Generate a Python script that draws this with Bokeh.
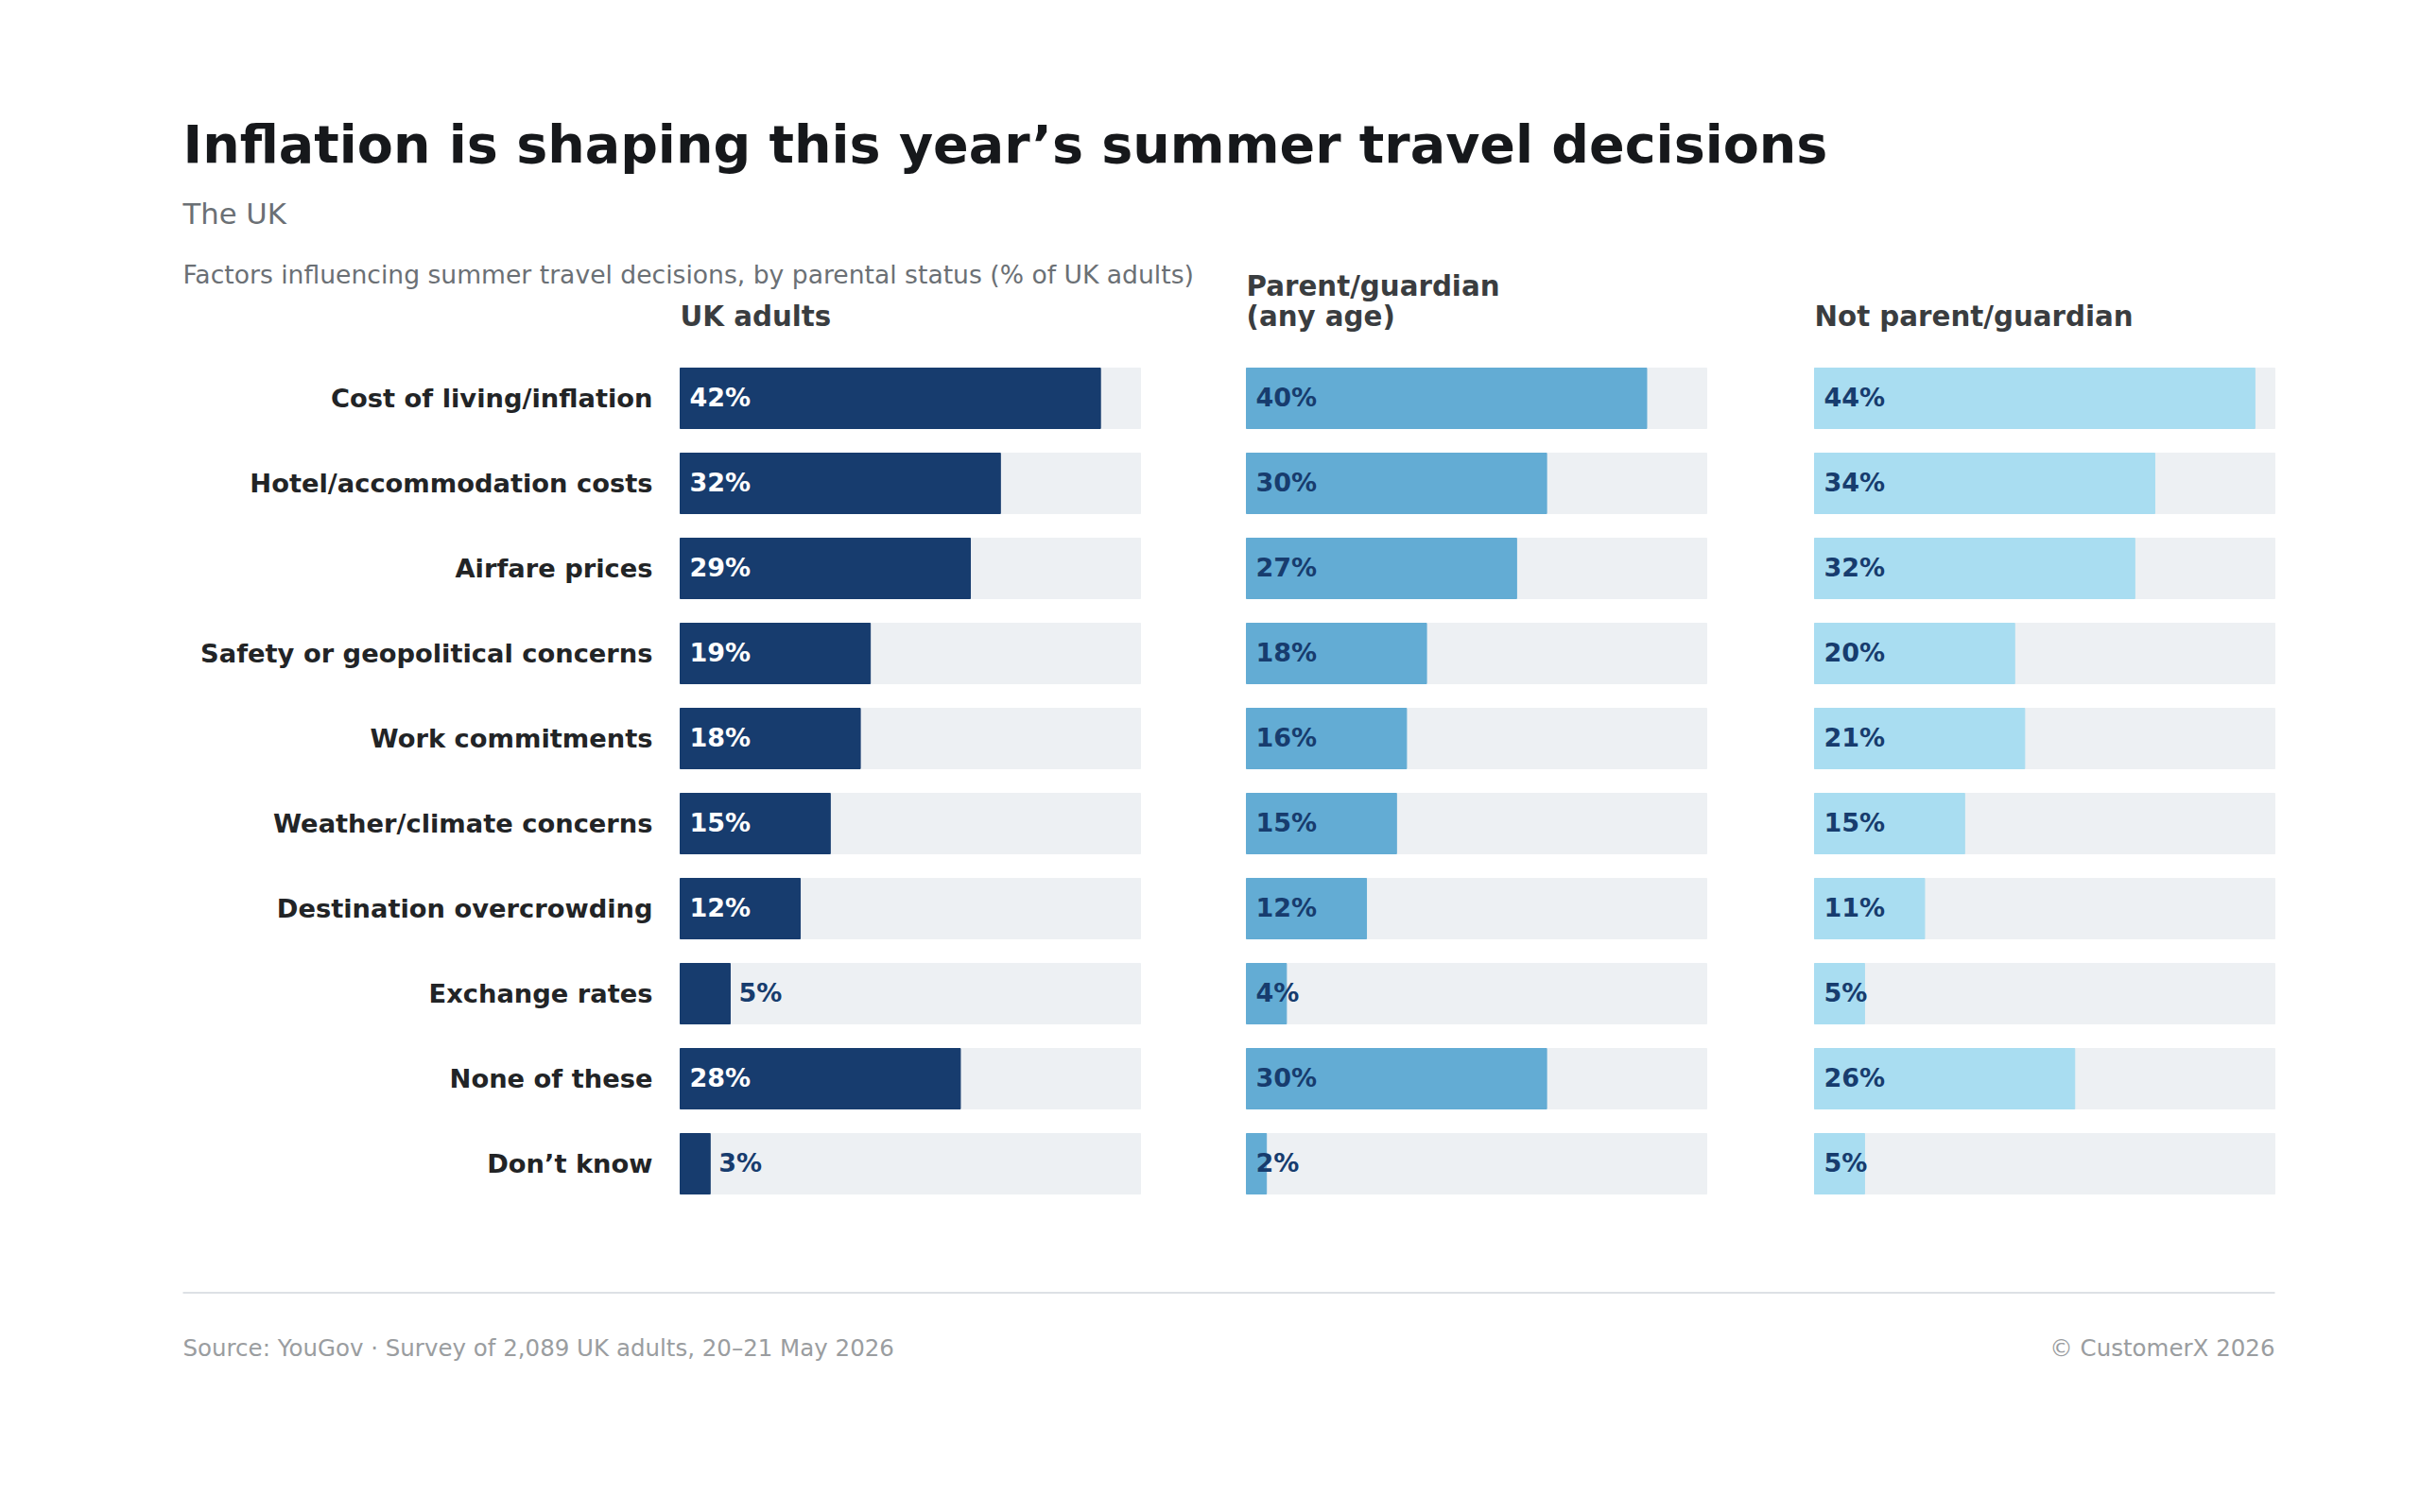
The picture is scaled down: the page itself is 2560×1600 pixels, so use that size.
from bokeh.plotting import figure
from bokeh.models import Range1d, ColumnDataSource
from bokeh.core.properties import value
from bokeh.embed import file_html
from bokeh.resources import INLINE

# data
categories = [
    "Cost of living/inflation",
    "Hotel/accommodation costs",
    "Airfare prices",
    "Safety or geopolitical concerns",
    "Work commitments",
    "Weather/climate concerns",
    "Destination overcrowding",
    "Exchange rates",
    "None of these",
    "Don\u2019t know",
]
uk_adults = [42, 32, 29, 19, 18, 15, 12, 5, 28, 3]
parents = [40, 30, 27, 18, 16, 15, 12, 4, 30, 2]
non_parents = [44, 34, 32, 20, 21, 15, 11, 5, 26, 5]
panel_titles = [["UK adults"], ["Parent/guardian", "(any age)"], ["Not parent/guardian"]]
x_max = 46

title = "Inflation is shaping this year\u2019s summer travel decisions"
region = "The UK"
subtitle = "Factors influencing summer travel decisions, by parental status (% of UK adults)"
source = "Source: YouGov \u00b7 Survey of 2,089 UK adults, 20\u201321 May 2026"
credit = "\u00a9 CustomerX 2026"

# layout (pixels)
W, H = 2544, 1584
left_margin, right_edge = 193, 2406
panel_x0 = [719, 1318, 1919]
panel_w = 487
row0, row_step, bar_h = 421, 90, 64

FONT = value("DejaVu Sans")
NAVY = "#173c6e"
bar_colors = [NAVY, "#63acd4", "#a9ddf1"]
TRACK = "#edf0f3"

p = figure(width=W, height=H, output_backend="svg", toolbar_location=None,
           x_range=Range1d(0, W), y_range=Range1d(H, 0),
           x_axis_location=None, y_axis_location=None, min_border=0,
           background_fill_color="white", border_fill_color="white",
           outline_line_color=None)
p.grid.visible = False

p.extra_y_ranges = {"rows": Range1d((H - row0) / row_step, -row0 / row_step)}
for i, x0 in enumerate(panel_x0):
    p.extra_x_ranges[f"p{i}"] = Range1d(-x0 / panel_w * x_max, (W - x0) / panel_w * x_max)

rows = list(range(len(categories)))
bh = bar_h / row_step

for i, vals in enumerate([uk_adults, parents, non_parents]):
    rn = f"p{i}"
    src = ColumnDataSource(dict(y=rows, v=vals, txt=[f"{v}%" for v in vals]))
    p.hbar(y="y", left=0, right=x_max, height=bh, source=src, color=TRACK,
           x_range_name=rn, y_range_name="rows")
    p.hbar(y="y", left=0, right="v", height=bh, source=src, color=bar_colors[i],
           x_range_name=rn, y_range_name="rows")
    if i == 0:
        inside = [k for k in rows if vals[k] >= 10]
        outside = [k for k in rows if vals[k] < 10]
        p.text(x=[0] * len(inside), y=inside, text=[f"{vals[k]}%" for k in inside],
               x_offset=10, y_offset=-1, text_font=FONT, text_font_style="bold",
               text_font_size="27px", text_color="white", text_baseline="alphabetic",
               x_range_name=rn, y_range_name="rows")
        p.text(x=[vals[k] for k in outside], y=outside, text=[f"{vals[k]}%" for k in outside],
               x_offset=9, y_offset=-1, text_font=FONT, text_font_style="bold",
               text_font_size="27px", text_color=NAVY, text_baseline="alphabetic",
               x_range_name=rn, y_range_name="rows")
    else:
        p.text(x=0, y="y", text="txt", source=src, x_offset=10, y_offset=-1,
               text_font=FONT, text_font_style="bold", text_font_size="27px",
               text_color=NAVY, text_baseline="alphabetic",
               x_range_name=rn, y_range_name="rows")
    # panel heading
    lines = panel_titles[i]
    base = 334 - 32 * (len(lines) - 1)
    p.text(x=[0] * len(lines), y=[base + 32 * j for j in range(len(lines))], text=lines,
           text_font=FONT, text_font_style="bold", text_font_size="29.3px",
           text_color="#3a3d40", text_baseline="alphabetic", x_range_name=rn)

# category labels
p.text(x=[0] * len(categories), y=rows, text=categories, x_offset=-29, y_offset=0,
       text_font=FONT, text_font_style="bold", text_font_size="27.3px",
       text_color="#222426", text_align="right", text_baseline="alphabetic",
       x_range_name="p0", y_range_name="rows")

# titles
p.text(x=[left_margin], y=[152], text=[title], text_font=FONT, text_font_style="bold",
       text_font_size="55.5px", text_color="#16181b", text_baseline="alphabetic")
p.text(x=[left_margin], y=[226], text=[region], text_font=FONT,
       text_font_size="30.7px", text_color="#6b7075", text_baseline="alphabetic")
p.text(x=[left_margin], y=[290], text=[subtitle], text_font=FONT,
       text_font_size="26.6px", text_color="#6b7075", text_baseline="alphabetic")

# footer
p.segment(x0=[left_margin], y0=[1367.5], x1=[right_edge], y1=[1367.5],
          line_color="#dde1e5", line_width=2)
p.text(x=[left_margin], y=[1426], text=[source], text_font=FONT,
       text_font_size="24.5px", text_color="#9a9da0", text_baseline="alphabetic")
p.text(x=[right_edge], y=[1426], text=[credit], text_font=FONT,
       text_font_size="24.5px", text_color="#9a9da0", text_align="right",
       text_baseline="alphabetic")

open("out.html", "w").write(file_html(p, INLINE))
